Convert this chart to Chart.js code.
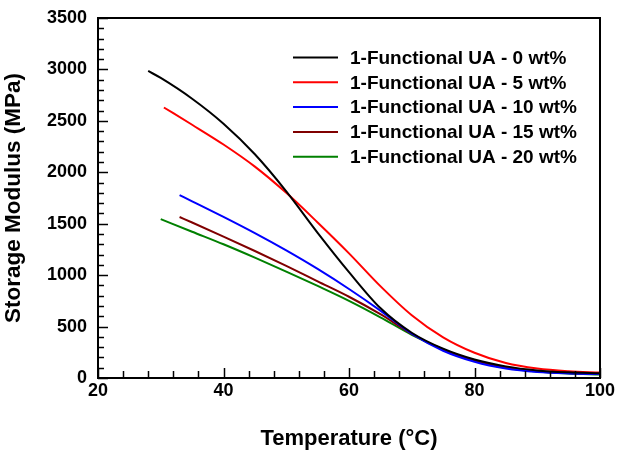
<!DOCTYPE html>
<html>
<head>
<meta charset="utf-8">
<script src="https://cdn.jsdelivr.net/npm/chart.js@4"></script>
<style>
  html, body { margin: 0; padding: 0; background: #fff; }
</style>
</head>
<body>
<canvas id="dmaChart" width="617" height="452"></canvas>
<script>
// temperatures (°C) and storage modulus (MPa)
const temp0 = [28, 30, 35, 40, 45, 50, 55, 60, 65, 70, 75, 80, 85, 90, 95, 100];
const mod0 = [2985, 2917, 2715, 2472, 2175, 1815, 1412, 1030, 680, 440, 285, 180, 113, 74, 55, 45];

const temp5 = [30.5, 35, 40, 45, 50, 55, 60, 65, 70, 75, 80, 85, 90, 95, 100];
const mod5 = [2630, 2462, 2270, 2055, 1800, 1512, 1212, 893, 610, 395, 245, 145, 92, 66, 53];

const temp10 = [33, 35, 40, 45, 50, 55, 60, 65, 70, 75, 80, 85, 90, 95, 100];
const mod10 = [1778, 1718, 1566, 1408, 1240, 1060, 865, 655, 430, 265, 158, 92, 58, 44, 38];

const temp15 = [33, 35, 40, 45, 50, 55, 60, 65, 70, 75, 80, 85, 90, 95, 100];
const mod15 = [1565, 1512, 1375, 1235, 1090, 940, 790, 620, 430, 278, 170, 103, 66, 49, 42];

const temp20 = [30, 35, 40, 45, 50, 55, 60, 65, 70, 75, 80, 85, 90, 95, 100];
const mod20 = [1545, 1422, 1300, 1170, 1035, 895, 750, 590, 420, 278, 168, 100, 62, 43, 34];

const seriesLabels = [
  '1-Functional UA - 0 wt%',
  '1-Functional UA - 5 wt%',
  '1-Functional UA - 10 wt%',
  '1-Functional UA - 15 wt%',
  '1-Functional UA - 20 wt%'
];
const seriesColors = ['#000000', '#ff0000', '#0000ff', '#800000', '#008000'];

const FONT = '"Liberation Sans", Arial, sans-serif';

function pts(xs, ys) {
  return xs.map((x, i) => ({ x: x, y: ys[i] }));
}

const allData = [pts(temp0, mod0), pts(temp5, mod5), pts(temp10, mod10), pts(temp15, mod15), pts(temp20, mod20)];

// box around plot + inward ticks (major and minor)
const frameTicks = {
  id: 'frameTicks',
  afterDraw(chart) {
    const { ctx, chartArea: a, scales } = chart;
    ctx.save();
    ctx.strokeStyle = '#000';
    ctx.lineWidth = 1.5;
    for (let v = 0; v <= 3500; v += 100) {
      const y = Math.round(scales.y.getPixelForValue(v)) + 0.5;
      const len = v % 500 === 0 ? 10 : 6;
      ctx.beginPath();
      ctx.moveTo(a.left, y);
      ctx.lineTo(a.left + len, y);
      ctx.stroke();
    }
    for (let v = 20; v <= 100; v += 4) {
      const x = Math.round(scales.x.getPixelForValue(v)) + 0.5;
      const len = v % 20 === 0 ? 10 : 7;
      ctx.beginPath();
      ctx.moveTo(x, a.bottom);
      ctx.lineTo(x, a.bottom - len);
      ctx.stroke();
    }
    ctx.lineWidth = 2;
    ctx.strokeRect(a.left, a.top, a.right - a.left, a.bottom - a.top);
    ctx.restore();
  }
};

// legend drawn inside the plot, top right
const insideLegend = {
  id: 'insideLegend',
  afterDraw(chart) {
    const ctx = chart.ctx;
    ctx.save();
    ctx.font = 'bold 19px ' + FONT;
    ctx.textBaseline = 'middle';
    ctx.fillStyle = '#000';
    chart.data.datasets.forEach((ds, i) => {
      const y = 57.5 + i * 24.8;
      ctx.strokeStyle = ds.borderColor;
      ctx.lineWidth = 2;
      ctx.beginPath();
      ctx.moveTo(293, y);
      ctx.lineTo(338, y);
      ctx.stroke();
      ctx.fillText(ds.label, 350, y + 1);
    });
    ctx.restore();
  }
};

new Chart(document.getElementById('dmaChart'), {
  type: 'scatter',
  data: {
    datasets: allData.map((d, i) => ({
      label: seriesLabels[i],
      data: d,
      showLine: true,
      borderColor: seriesColors[i],
      backgroundColor: seriesColors[i],
      borderWidth: 2,
      pointRadius: 0,
      cubicInterpolationMode: 'monotone'
    }))
  },
  options: {
    responsive: false,
    animation: false,
    layout: { padding: { top: 18, right: 17, left: 0, bottom: 0 } },
    plugins: {
      legend: { display: false },
      tooltip: { enabled: false }
    },
    scales: {
      x: {
        type: 'linear',
        min: 20,
        max: 100,
        grid: { display: false },
        border: { display: false },
        ticks: {
          stepSize: 20,
          padding: -6,
          color: '#000',
          font: { family: FONT, size: 18, weight: 'bold' }
        },
        title: {
          display: true,
          text: 'Temperature (°C)',
          color: '#000',
          padding: { top: 1, bottom: 0 },
          font: { family: FONT, size: 22, weight: 'bold' }
        },
        afterFit(scale) { scale.height = 74; }
      },
      y: {
        min: 0,
        max: 3500,
        grid: { display: false },
        border: { display: false },
        ticks: {
          stepSize: 500,
          padding: 3,
          color: '#000',
          callback: (v) => String(v),
          font: { family: FONT, size: 18, weight: 'bold' }
        },
        title: {
          display: true,
          text: 'Storage Modulus (MPa)',
          color: '#000',
          padding: { top: 0, bottom: 4 },
          font: { family: FONT, size: 22.5, weight: 'bold' }
        },
        afterFit(scale) { scale.width = 98; }
      }
    }
  },
  plugins: [frameTicks, insideLegend]
});
</script>
</body>
</html>
